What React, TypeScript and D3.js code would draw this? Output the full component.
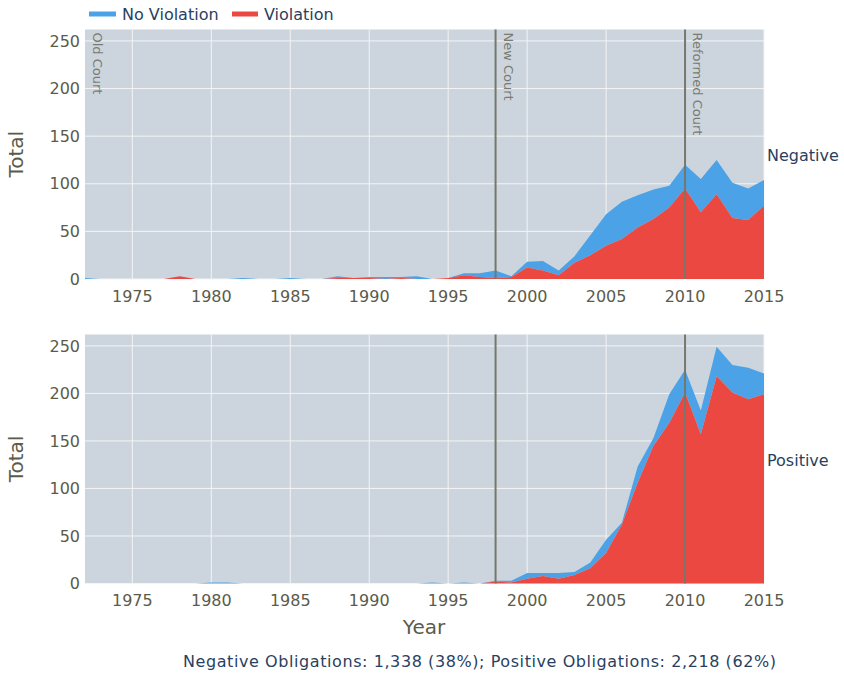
import React from 'react';
import * as d3 from 'd3';

const years = d3.range(1972, 2016);

// Negative obligations: totals per year and violation share
const negTotal = [1, 0, 0, 0, 0, 0, 3, 0, 0, 0, 1, 0, 0, 1, 0, 0, 3, 1, 2, 2, 2, 3, 0, 1, 6, 6, 9, 3,
  18, 19, 9, 24, 46, 68, 81, 88, 94, 98, 120, 105, 125, 101, 95, 104];
const negViolation = [0, 0, 0, 0, 0, 0, 3, 0, 0, 0, 0, 0, 0, 0, 0, 0, 1, 1, 1, 0, 1, 0, 0, 1, 4, 2, 1, 2,
  12, 9, 4, 17, 25, 35, 42, 54, 63, 75, 95, 70, 89, 64, 62, 77];

// Positive obligations
const posTotal = [0, 0, 0, 0, 0, 0, 0, 0, 1, 1, 0, 0, 0, 0, 0, 0, 0, 0, 0, 0, 0, 0, 1, 0, 1, 0, 3, 3,
  11, 11, 11, 12, 22, 46, 64, 123, 153, 199, 225, 182, 249, 230, 227, 221];
const posViolation = [0, 0, 0, 0, 0, 0, 0, 0, 0, 0, 0, 0, 0, 0, 0, 0, 0, 0, 0, 0, 0, 0, 0, 0, 0, 0, 2, 1,
  5, 8, 5, 9, 16, 32, 62, 106, 145, 169, 201, 157, 218, 201, 194, 199];

const courts = [
  { year: 1972, label: 'Old Court', line: false },
  { year: 1998, label: 'New Court', line: true },
  { year: 2010, label: 'Reformed Court', line: true },
];

const xTicks = [1975, 1980, 1985, 1990, 1995, 2000, 2005, 2010, 2015];
const yTicks = [0, 50, 100, 150, 200, 250];

const BLUE = '#4ba2e6';
const RED = '#eb4842';
const BG = '#ccd5de';
const TICK = '#5b5b4b';
const DARK = '#2a3f5f';
const FONT = '"DejaVu Sans", Verdana, sans-serif';

const left = 85;
const right = 764;

const x = d3.scaleLinear().domain([1972, 2015]).range([left, right]);

function Panel({ top, bottom, total, violation, name, showCourtLabels }) {
  const y = d3.scaleLinear().domain([0, 262]).range([bottom, top]);
  const rows = years.map((yr, i) => ({ yr, v: violation[i], t: total[i] }));
  const redArea = d3.area<any>().x(d => x(d.yr)).y0(y(0)).y1(d => y(d.v));
  const blueArea = d3.area<any>().x(d => x(d.yr)).y0(d => y(d.v)).y1(d => y(d.t));
  return (
    <g>
      <rect x={left} y={top} width={right - left} height={bottom - top} fill={BG} />
      {yTicks.map(t => (
        <line key={'gy' + t} x1={left} x2={right} y1={y(t)} y2={y(t)} stroke="#f4f4f4" strokeWidth={1} />
      ))}
      {xTicks.map(t => (
        <line key={'gx' + t} x1={x(t)} x2={x(t)} y1={top} y2={bottom} stroke="#f4f4f4" strokeWidth={1} />
      ))}
      <path d={blueArea(rows) || ''} fill={BLUE} />
      <path d={redArea(rows) || ''} fill={RED} />
      {courts.filter(c => c.line).map(c => (
        <line key={'cl' + c.year} x1={x(c.year)} x2={x(c.year)} y1={top} y2={bottom} stroke="#77776b" strokeWidth={2} />
      ))}
      {showCourtLabels && courts.map(c => (
        <text key={'ct' + c.year} transform={`translate(${x(c.year) + 8},${top + 3}) rotate(90)`}
          fontSize={13} fill="#7a7a6e" fontFamily={FONT}>{c.label}</text>
      ))}
      {yTicks.map(t => (
        <text key={'ty' + t} x={left - 5} y={y(t)} dy="0.35em" textAnchor="end" fontSize={16} fill={TICK} fontFamily={FONT}>{t}</text>
      ))}
      {xTicks.map(t => (
        <text key={'tx' + t} x={x(t)} y={bottom + 17} dy="0.35em" textAnchor="middle" fontSize={16} fill={TICK} fontFamily={FONT}>{t}</text>
      ))}
      <text transform={`translate(23,${(top + bottom) / 2}) rotate(-90)`} textAnchor="middle" fontSize={20} fill={TICK} fontFamily={FONT}>Total</text>
      <text x={right + 3} y={(top + bottom) / 2 + 1} dy="0.35em" fontSize={16} fill={DARK} fontFamily={FONT}>{name}</text>
    </g>
  );
}

export default function App() {
  return (
    <svg width={844} height={674} style={{ position: 'absolute', left: 0, top: 0, background: '#fff' }}>
      <line x1={89} x2={116} y1={14} y2={14} stroke={BLUE} strokeWidth={5} />
      <text x={122} y={14} dy="0.35em" fontSize={16} fill={DARK} fontFamily={FONT}>No Violation</text>
      <line x1={232} x2={258} y1={14} y2={14} stroke={RED} strokeWidth={5} />
      <text x={264} y={14} dy="0.35em" fontSize={16} fill={DARK} fontFamily={FONT}>Violation</text>
      <Panel top={29.5} bottom={279} total={negTotal} violation={negViolation} name="Negative" showCourtLabels />
      <Panel top={334.5} bottom={583.5} total={posTotal} violation={posViolation} name="Positive" showCourtLabels={false} />
      <text x={424} y={627} dy="0.35em" textAnchor="middle" fontSize={20} fill={TICK} fontFamily={FONT}>Year</text>
      <text x={183} y={661} dy="0.35em" fontSize={16} textLength={593} lengthAdjust="spacing" fill={DARK} fontFamily={FONT}>
        Negative Obligations: 1,338 (38%); Positive Obligations: 2,218 (62%)
      </text>
    </svg>
  );
}
